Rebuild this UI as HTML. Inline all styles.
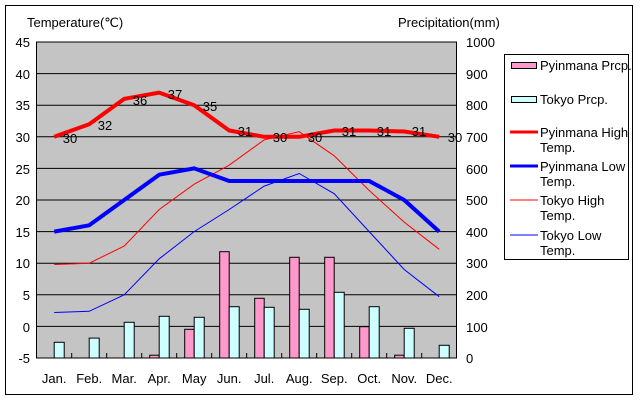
<!DOCTYPE html>
<html><head><meta charset="utf-8"><style>
html,body{margin:0;padding:0;background:#fff;}
svg{display:block;}
text{font-family:"Liberation Sans",sans-serif;font-size:13px;fill:#000;}
</style></head><body>
<svg width="640" height="400" viewBox="0 0 640 400" xmlns="http://www.w3.org/2000/svg">
<rect x="0" y="0" width="640" height="400" fill="#fff"/>
<rect x="5.5" y="5.5" width="627" height="389" fill="#fff" stroke="#000" stroke-width="1"/>
<text x="27" y="27" font-size="12">Temperature(℃)</text>
<text x="398" y="27" font-size="12">Precipitation(mm)</text>
<rect x="36.5" y="42" width="420" height="316" fill="#c4c4c4" stroke="#000" stroke-width="1"/>
<g stroke="#000" stroke-width="1">
<line x1="36.5" y1="73.6" x2="456.5" y2="73.6"/>
<line x1="36.5" y1="105.2" x2="456.5" y2="105.2"/>
<line x1="36.5" y1="136.8" x2="456.5" y2="136.8"/>
<line x1="36.5" y1="168.4" x2="456.5" y2="168.4"/>
<line x1="36.5" y1="200" x2="456.5" y2="200"/>
<line x1="36.5" y1="231.6" x2="456.5" y2="231.6"/>
<line x1="36.5" y1="263.2" x2="456.5" y2="263.2"/>
<line x1="36.5" y1="294.8" x2="456.5" y2="294.8"/>
<line x1="36.5" y1="326.4" x2="456.5" y2="326.4"/>
</g>
<g stroke="#000" stroke-width="1">
<line x1="71.7" y1="353" x2="71.7" y2="358"/><line x1="106.7" y1="353" x2="106.7" y2="358"/>
<line x1="141.7" y1="353" x2="141.7" y2="358"/><line x1="176.7" y1="353" x2="176.7" y2="358"/>
<line x1="211.7" y1="353" x2="211.7" y2="358"/><line x1="246.7" y1="353" x2="246.7" y2="358"/>
<line x1="281.7" y1="353" x2="281.7" y2="358"/><line x1="316.7" y1="353" x2="316.7" y2="358"/>
<line x1="351.7" y1="353" x2="351.7" y2="358"/><line x1="386.7" y1="353" x2="386.7" y2="358"/>
<line x1="421.7" y1="353" x2="421.7" y2="358"/>
</g>
<g stroke="#000" stroke-width="1" fill="#ff99cc">
<rect x="149.7" y="355.2" width="9.5" height="2.8"/>
<rect x="184.7" y="329.3" width="9.5" height="28.7"/>
<rect x="219.7" y="251.7" width="9.5" height="106.3"/>
<rect x="254.7" y="298.3" width="9.5" height="59.7"/>
<rect x="289.7" y="257.3" width="9.5" height="100.7"/>
<rect x="324.7" y="257.3" width="9.5" height="100.7"/>
<rect x="359.7" y="326.7" width="9.5" height="31.3"/>
<rect x="394.7" y="355.2" width="9.5" height="2.8"/>
</g>
<g stroke="#000" stroke-width="1" fill="#ccffff">
<rect x="54.2" y="342.3" width="10" height="15.7"/>
<rect x="89.2" y="338.1" width="10" height="19.9"/>
<rect x="124.2" y="322.3" width="10" height="35.7"/>
<rect x="159.2" y="316.3" width="10" height="41.7"/>
<rect x="194.2" y="317.3" width="10" height="40.7"/>
<rect x="229.2" y="306.7" width="10" height="51.3"/>
<rect x="264.2" y="307.3" width="10" height="50.7"/>
<rect x="299.2" y="309.3" width="10" height="48.7"/>
<rect x="334.2" y="292.3" width="10" height="65.7"/>
<rect x="369.2" y="306.7" width="10" height="51.3"/>
<rect x="404.2" y="328.3" width="10" height="29.7"/>
<rect x="439.2" y="345.3" width="10" height="12.7"/>
</g>
<polyline fill="none" stroke="#ff0000" stroke-width="1" points="54.2,264.5 89.2,263.2 124.2,246.1 159.2,209.5 194.2,184.2 229.2,165.2 264.2,139.9 299.2,131.7 334.2,155.8 369.2,190.5 404.2,222.1 439.2,249.3"/>
<polyline fill="none" stroke="#0000ff" stroke-width="1" points="54.2,312.5 89.2,311.3 124.2,294.8 159.2,258.8 194.2,231.6 229.2,209.5 264.2,186.1 299.2,173.5 334.2,193.7 369.2,231.6 404.2,269.5 439.2,296.7"/>
<polyline fill="none" stroke="#ff0000" stroke-width="4" stroke-linejoin="round" points="54.2,136.8 89.2,124.2 124.2,98.9 159.2,92.6 194.2,105.2 229.2,130.5 264.2,136.8 299.2,136.8 334.2,130.5 369.2,130.5 404.2,131.5 439.2,136.8"/>
<polyline fill="none" stroke="#0000ff" stroke-width="4" stroke-linejoin="round" points="54.2,231.6 89.2,225.3 124.2,200 159.2,174.7 194.2,168.4 229.2,181.0 264.2,181.0 299.2,181.0 334.2,181.0 369.2,181.0 404.2,200 439.2,231.6"/>
<g text-anchor="middle">
<text x="70" y="143">30</text><text x="105" y="130">32</text><text x="140" y="105">36</text>
<text x="175" y="99">37</text><text x="210" y="111">35</text><text x="245" y="136">31</text>
<text x="280" y="142">30</text><text x="315" y="142">30</text><text x="349" y="136">31</text>
<text x="384" y="136">31</text><text x="419" y="136">31</text><text x="455" y="142">30</text>
</g>
<g text-anchor="end">
<text x="30" y="47">45</text><text x="30" y="79">40</text><text x="30" y="110">35</text>
<text x="30" y="142">30</text><text x="30" y="174">25</text><text x="30" y="205">20</text>
<text x="30" y="237">15</text><text x="30" y="268">10</text><text x="30" y="300">5</text>
<text x="30" y="332">0</text><text x="30" y="363">-5</text>
</g>
<g text-anchor="start">
<text x="466" y="47">1000</text><text x="466" y="79">900</text><text x="466" y="110">800</text>
<text x="466" y="142">700</text><text x="466" y="174">600</text><text x="466" y="205">500</text>
<text x="466" y="237">400</text><text x="466" y="268">300</text><text x="466" y="300">200</text>
<text x="466" y="332">100</text><text x="466" y="363">0</text>
</g>
<g text-anchor="middle" font-size="12">
<text x="54.2" y="383">Jan.</text><text x="89.2" y="383">Feb.</text><text x="124.2" y="383">Mar.</text>
<text x="159.2" y="383">Apr.</text><text x="194.2" y="383">May</text><text x="229.2" y="383">Jun.</text>
<text x="264.2" y="383">Jul.</text><text x="299.2" y="383">Aug.</text><text x="334.2" y="383">Sep.</text>
<text x="369.2" y="383">Oct.</text><text x="404.2" y="383">Nov.</text><text x="439.2" y="383">Dec.</text>
</g>
<rect x="504.5" y="54.5" width="124" height="205" fill="#fff" stroke="#000" stroke-width="1"/>
<rect x="511.5" y="62.5" width="25" height="6" fill="#ff99cc" stroke="#000"/>
<rect x="511.5" y="96.5" width="25" height="6" fill="#ccffff" stroke="#000"/>
<line x1="510" y1="132" x2="538" y2="132" stroke="#ff0000" stroke-width="3"/>
<line x1="510" y1="166" x2="538" y2="166" stroke="#0000ff" stroke-width="3"/>
<line x1="510" y1="200" x2="538" y2="200" stroke="#ff0000" stroke-width="1"/>
<line x1="510" y1="235" x2="538" y2="235" stroke="#0000ff" stroke-width="1"/>
<g font-size="11">
<text x="540" y="70">Pyinmana Prcp.</text>
<text x="540" y="104">Tokyo Prcp.</text>
<text x="540" y="137">Pyinmana High</text><text x="540" y="152">Temp.</text>
<text x="540" y="171">Pyinmana Low</text><text x="540" y="186">Temp.</text>
<text x="540" y="205">Tokyo High</text><text x="540" y="220">Temp.</text>
<text x="540" y="240">Tokyo Low</text><text x="540" y="255">Temp.</text>
</g>
</svg>
</body></html>
